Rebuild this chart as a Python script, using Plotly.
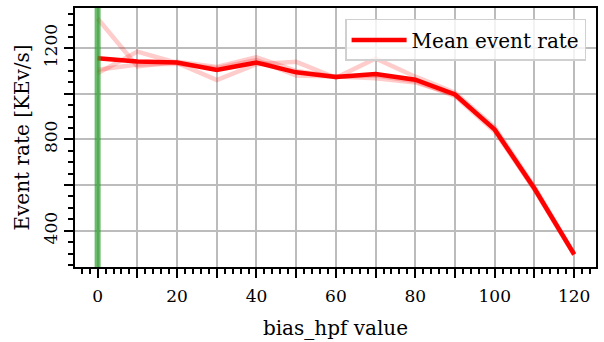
import plotly.graph_objects as go

# ---- data ----
bias_hpf = [0, 10, 20, 30, 40, 50, 60, 70, 80, 90, 100, 110, 120]
mean_rate = [1156, 1142, 1137, 1105, 1137, 1094, 1074, 1087, 1062, 997, 843, 585, 296]
run_1 = [1330, 1120, 1140, 1118, 1160, 1100, 1075, 1080, 1055, 990, 835, 582, 294]
run_2 = [1090, 1185, 1135, 1060, 1130, 1140, 1070, 1155, 1075, 1005, 852, 592, 300]
run_3 = [1105, 1128, 1132, 1112, 1148, 1080, 1076, 1068, 1050, 995, 845, 580, 295]
runs = [run_1, run_2, run_3]
marker_x = 0

x_tickvals = [0, 10, 20, 30, 40, 50, 60, 70, 80, 90, 100, 110, 120]
x_ticklabels = ["0", "", "20", "", "40", "", "60", "", "80", "", "100", "", "120"]
y_tickvals = [400, 600, 800, 1000, 1200]
y_ticklabels = ["400", "", "800", "", "1200"]

FONT = "DejaVu Serif"

fig = go.Figure()
for r in runs:
    fig.add_trace(go.Scatter(x=bias_hpf, y=r, mode="lines",
                             line=dict(color="rgba(255,0,0,0.2)", width=4.5),
                             showlegend=False, hoverinfo="skip"))
fig.add_trace(go.Scatter(x=bias_hpf, y=mean_rate, mode="lines",
                         line=dict(color="red", width=4.5),
                         name="Mean event rate"))
fig.add_vline(x=marker_x, line=dict(color="rgba(44,160,44,0.7)", width=6), layer="above")

axis_common = dict(
    showline=True, linecolor="black", linewidth=2, mirror=True,
    ticks="outside", ticklen=9, tickwidth=1.8, tickcolor="black",
    showgrid=True, gridcolor="#bcbcbc", gridwidth=1.8,
    zeroline=False,
    tickfont=dict(family=FONT, size=17, color="black"),
    title_font=dict(family=FONT, size=20, color="black"),
)

fig.update_xaxes(
    range=[-5.7, 125.5], tickmode="array", tickvals=x_tickvals, ticktext=x_ticklabels,
    minor=dict(dtick=2, tick0=0, ticks="outside", ticklen=5, tickwidth=1.5,
               tickcolor="black", showgrid=False),
    ticklabelstandoff=4,
    title=dict(text="bias_hpf value", standoff=16),
    **axis_common,
)
fig.update_yaxes(
    range=[241, 1376], tickmode="array", tickvals=y_tickvals, ticktext=y_ticklabels,
    tickangle=-90,
    minor=dict(dtick=50, tick0=0, ticks="outside", ticklen=5, tickwidth=1.5,
               tickcolor="black", showgrid=False),
    title=dict(text="Event rate [KEv/s]", standoff=6),
    **axis_common,
)

fig.update_layout(
    width=604, height=342,
    margin=dict(l=75, r=6, t=6, b=72),
    plot_bgcolor="white", paper_bgcolor="white",
    font=dict(family=FONT, color="black"),
    legend=dict(x=0.981, y=0.958, xanchor="right", yanchor="top",
                itemwidth=55,
                bgcolor="rgba(255,255,255,0.8)", bordercolor="#d0d0d0", borderwidth=1.5,
                font=dict(family=FONT, size=20, color="black")),
)

fig.write_html("out.html")
